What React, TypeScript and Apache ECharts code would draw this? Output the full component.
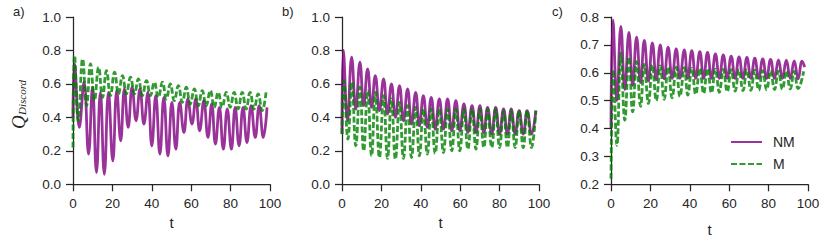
import React, { useEffect, useRef } from "react";
import * as echarts from "echarts";

// ---- Panel a ----
const tA_NM = [0, 0.8, 3.2, 5.6, 7.9, 9.9, 11.9, 13.9, 15.9, 18, 20.2, 22.2, 24.2, 26.1, 28, 30, 32, 34, 36, 38, 40, 42, 44.1, 46.1, 48.2, 50.2, 52.2, 54.2, 56.3, 58.3, 60.4, 62.3, 64.3, 66.4, 68.5, 70.4, 72.3, 74.3, 76.3, 78.3, 80.4, 82.3, 84.3, 86.3, 88.3, 90.4, 92.5, 94.5, 96.6, 98.5];
const vA_NM = [0.4, 0.72, 0.34, 0.61, 0.18, 0.58, 0.07, 0.55, 0.06, 0.55, 0.14, 0.56, 0.26, 0.57, 0.34, 0.58, 0.38, 0.57, 0.36, 0.55, 0.23, 0.53, 0.18, 0.52, 0.17, 0.49, 0.21, 0.49, 0.31, 0.51, 0.36, 0.51, 0.32, 0.5, 0.28, 0.48, 0.24, 0.46, 0.21, 0.45, 0.21, 0.46, 0.23, 0.46, 0.25, 0.47, 0.28, 0.47, 0.28, 0.46];
const tA_M = [0, 0.8, 2.7, 4.9, 6.9, 8.9, 10.9, 13, 15, 17, 19, 21.1, 23.1, 25.1, 27.1, 29.2, 31.2, 33.2, 35.2, 37.3, 39.3, 41.3, 43.3, 45.4, 47.4, 49.4, 51.4, 53.5, 55.5, 57.5, 59.5, 61.6, 63.6, 65.6, 67.6, 69.7, 71.7, 73.7, 75.7, 77.8, 79.8, 81.8, 83.8, 85.9, 87.9, 89.9, 91.9, 94, 96, 98];
const vA_M = [0.22, 0.77, 0.38, 0.75, 0.47, 0.72, 0.5, 0.7, 0.52, 0.68, 0.53, 0.67, 0.54, 0.65, 0.54, 0.64, 0.54, 0.63, 0.53, 0.62, 0.53, 0.61, 0.52, 0.61, 0.51, 0.6, 0.5, 0.59, 0.49, 0.58, 0.48, 0.57, 0.47, 0.56, 0.47, 0.56, 0.46, 0.55, 0.46, 0.55, 0.46, 0.55, 0.45, 0.55, 0.45, 0.55, 0.45, 0.54, 0.44, 0.55];

// ---- Panel b ----
const tB_NM = [0, 0.7, 2.8, 4.9, 7, 9.1, 11, 13, 15, 16.9, 19, 21.1, 23.1, 25.1, 27.1, 29.2, 31.2, 33.3, 35.3, 37.4, 39.3, 41.3, 43.3, 45.3, 47.3, 49.4, 51.5, 53.6, 55.7, 57.8, 59.8, 61.9, 63.9, 66, 68, 70, 72, 73.9, 76, 78, 80, 82, 84, 85.9, 87.9, 89.9, 92, 94, 96.2, 98.4];
const vB_NM = [0.3, 0.8, 0.38, 0.76, 0.45, 0.73, 0.47, 0.69, 0.46, 0.65, 0.44, 0.63, 0.42, 0.6, 0.4, 0.59, 0.38, 0.57, 0.36, 0.55, 0.35, 0.53, 0.34, 0.52, 0.33, 0.51, 0.33, 0.51, 0.32, 0.5, 0.32, 0.48, 0.31, 0.47, 0.31, 0.47, 0.31, 0.46, 0.3, 0.46, 0.3, 0.45, 0.3, 0.45, 0.3, 0.44, 0.3, 0.44, 0.3, 0.44];
const tB_M = [0, 1, 3, 5, 7, 9.1, 11, 13, 15, 16.9, 19, 21.1, 23.1, 25.1, 27.1, 29.2, 31.2, 33.3, 35.3, 37.4, 39.3, 41.3, 43.3, 45.3, 47.3, 49.4, 51.5, 53.6, 55.7, 57.8, 59.8, 61.9, 63.9, 66, 68, 70, 72, 73.9, 76, 78, 80, 82, 84, 85.9, 87.9, 89.9, 92, 94, 96.2, 98.4];
const vB_M = [0.3, 0.62, 0.27, 0.61, 0.23, 0.58, 0.2, 0.56, 0.17, 0.55, 0.16, 0.53, 0.155, 0.51, 0.15, 0.49, 0.155, 0.47, 0.16, 0.46, 0.17, 0.45, 0.18, 0.45, 0.185, 0.45, 0.19, 0.45, 0.2, 0.45, 0.2, 0.45, 0.21, 0.45, 0.21, 0.45, 0.22, 0.45, 0.22, 0.45, 0.22, 0.44, 0.22, 0.44, 0.22, 0.44, 0.22, 0.44, 0.22, 0.44];

// ---- Panel c ----
const tC_NM = [0, 1, 3, 5, 7, 9.1, 11, 13, 15, 16.9, 19, 21, 23, 25, 27, 29, 31, 33.1, 35, 37.2, 39, 41, 43, 45.1, 47, 49, 51, 53, 55, 57, 59, 61, 63, 65, 67, 69, 71, 73, 75, 77, 79, 81, 83, 85, 87, 89, 91, 93, 95, 97, 98.3];
const vC_NM = [0.4, 0.79, 0.5, 0.766, 0.54, 0.745, 0.555, 0.728, 0.565, 0.716, 0.57, 0.707, 0.575, 0.7, 0.578, 0.692, 0.58, 0.686, 0.58, 0.682, 0.58, 0.679, 0.58, 0.676, 0.58, 0.673, 0.58, 0.668, 0.58, 0.664, 0.58, 0.66, 0.58, 0.657, 0.58, 0.655, 0.58, 0.652, 0.58, 0.65, 0.58, 0.648, 0.58, 0.646, 0.58, 0.645, 0.58, 0.643, 0.578, 0.642, 0.62];
const tC_M = [0, 1.2, 3, 5, 7, 9.1, 11, 13, 15, 16.9, 19, 21, 23, 25, 27, 29, 31, 33.1, 35, 37.2, 39, 41, 43, 45.1, 47, 49, 51, 53, 55, 57, 59, 61, 63, 65, 67, 69, 71, 73, 75, 77, 79, 81, 83, 85, 87, 89, 91, 93, 95, 97.8];
const vC_M = [0.22, 0.61, 0.34, 0.67, 0.43, 0.656, 0.46, 0.64, 0.48, 0.63, 0.49, 0.628, 0.5, 0.625, 0.505, 0.62, 0.51, 0.62, 0.515, 0.618, 0.52, 0.617, 0.523, 0.616, 0.526, 0.615, 0.528, 0.613, 0.53, 0.612, 0.532, 0.611, 0.534, 0.61, 0.536, 0.61, 0.537, 0.609, 0.538, 0.608, 0.539, 0.607, 0.54, 0.606, 0.541, 0.606, 0.542, 0.605, 0.543, 0.605];

const panelLabels = ["a)", "b)", "c)"];
const seriesNames = ["NM", "M"];
const yRanges = [
  [0, 1, 0.2],
  [0, 1, 0.2],
  [0.2, 0.8, 0.1],
];

const zip = (t: number[], v: number[]) => t.map((x, i) => [x, v[i]]);

const PURPLE = "#800080";
const GREEN = "#008000";
const TEXT = "#262626";
const FONT = "Liberation Sans, Arial, sans-serif";

const gridLefts = [73, 342, 611];

function buildOption() {
  const panels = [
    [zip(tA_NM, vA_NM), zip(tA_M, vA_M)],
    [zip(tB_NM, vB_NM), zip(tB_M, vB_M)],
    [zip(tC_NM, vC_NM), zip(tC_M, vC_M)],
  ];
  const grid = gridLefts.map((l) => ({ left: l, top: 17, width: 197, height: 167.3 }));
  const xAxis = gridLefts.map((_, i) => ({
    type: "value",
    gridIndex: i,
    min: 0,
    max: 100,
    interval: 20,
    name: "t",
    nameLocation: "middle",
    nameGap: i === 2 ? 38 : 31,
    nameTextStyle: { fontSize: 15, color: TEXT, fontFamily: FONT },
    axisLine: { show: true, onZero: false, lineStyle: { color: TEXT, width: 1.25 } },
    axisTick: { show: true, length: 7, lineStyle: { color: TEXT, width: 1.25 } },
    axisLabel: { color: TEXT, fontSize: 13.5, fontFamily: FONT, margin: 12 },
    splitLine: { show: false },
  }));
  const yAxis = yRanges.map(([mn, mx, iv], i) => ({
    type: "value",
    gridIndex: i,
    min: mn,
    max: mx,
    interval: iv,
    axisLine: { show: true, onZero: false, lineStyle: { color: TEXT, width: 1.25 } },
    axisTick: { show: true, length: 7, lineStyle: { color: TEXT, width: 1.25 } },
    axisLabel: {
      color: TEXT,
      fontSize: 13.5,
      fontFamily: FONT,
      margin: 12,
      formatter: (v: number) => v.toFixed(1),
    },
    splitLine: { show: false },
  }));
  const series: any[] = [];
  panels.forEach(([nm, m], i) => {
    series.push({
      name: seriesNames[0],
      type: "line",
      xAxisIndex: i,
      yAxisIndex: i,
      data: nm,
      symbol: "none",
      showSymbol: false,
      smooth: 0.45,
      itemStyle: { color: PURPLE, opacity: 0.8 },
      lineStyle: { color: PURPLE, width: 2.8, opacity: 0.8 },
      z: 2,
    });
    series.push({
      name: seriesNames[1],
      type: "line",
      xAxisIndex: i,
      yAxisIndex: i,
      data: m,
      symbol: "none",
      showSymbol: false,
      smooth: 0.45,
      itemStyle: { color: GREEN, opacity: 0.8 },
      lineStyle: { color: GREEN, width: 2.8, opacity: 0.8, type: [6, 2.5] },
      z: 3,
    });
  });
  const graphic: any[] = panelLabels.map((txt, i) => ({
    type: "text",
    left: [13, 282, 552][i],
    top: 5,
    style: { text: txt, fontSize: 13, fill: TEXT, fontFamily: FONT },
  }));
  graphic.push({
    type: "group",
    x: 18.5,
    y: 129,
    rotation: Math.PI / 2,
    children: [
      {
        type: "text",
        x: 0,
        y: 0,
        style: {
          text: "Q",
          fontSize: 19,
          fontStyle: "italic",
          fontFamily: "Liberation Serif, serif",
          fill: TEXT,
          verticalAlign: "middle",
          align: "left",
        },
      },
      {
        type: "text",
        x: 14,
        y: 3.5,
        style: {
          text: "Discord",
          fontSize: 11,
          fontStyle: "italic",
          fontFamily: "Liberation Serif, serif",
          fill: TEXT,
          verticalAlign: "middle",
          align: "left",
        },
      },
    ],
  });
  return {
    animation: false,
    grid,
    xAxis,
    yAxis,
    series,
    graphic,
    legend: {
      data: seriesNames,
      orient: "vertical",
      left: 730,
      top: 135,
      itemWidth: 31,
      itemHeight: 14,
      itemGap: 8,
      padding: 0,
      itemStyle: { opacity: 0 },
      textStyle: { fontSize: 14, color: TEXT, fontFamily: FONT, padding: [0, 0, 0, 6] },
    },
  };
}

export default function App() {
  const ref = useRef<HTMLDivElement>(null);
  useEffect(() => {
    document.body.style.margin = "0";
    const chart = echarts.init(ref.current!, null, { renderer: "svg" });
    chart.setOption(buildOption() as any);
    return () => chart.dispose();
  }, []);
  return <div ref={ref} style={{ width: 831, height: 251 }} />;
}
